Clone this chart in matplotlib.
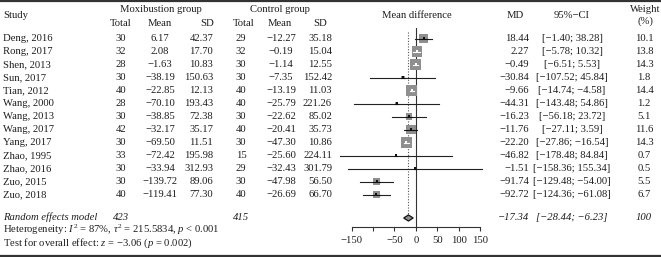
import numpy as np
import matplotlib.pyplot as plt

plt.rcParams['font.family'] = 'Liberation Serif'
plt.rcParams['mathtext.fontset'] = 'custom'
plt.rcParams['mathtext.rm'] = 'Liberation Serif'
plt.rcParams['mathtext.it'] = 'Liberation Serif:italic'

studies = ["Deng, 2016", "Rong, 2017", "Shen, 2013", "Sun, 2017", "Tian, 2012",
           "Wang, 2000", "Wang, 2013", "Wang, 2017", "Yang, 2017", "Zhao, 1995",
           "Zhao, 2016", "Zuo, 2015", "Zuo, 2018"]
n_e = [30, 32, 28, 30, 40, 28, 30, 42, 30, 33, 30, 30, 40]
mean_e = [6.17, 2.08, -1.63, -38.19, -22.85, -70.10, -38.85, -32.17, -69.50, -72.42, -33.94, -139.72, -119.41]
sd_e = [42.37, 17.70, 10.83, 150.63, 12.13, 193.43, 72.38, 35.17, 11.51, 195.98, 312.93, 89.06, 77.30]
n_c = [29, 32, 30, 30, 40, 40, 30, 40, 30, 15, 29, 30, 40]
mean_c = [-12.27, -0.19, -1.14, -7.35, -13.19, -25.79, -22.62, -20.41, -47.30, -25.60, -32.43, -47.98, -26.69]
sd_c = [35.18, 15.04, 12.55, 152.42, 11.03, 221.26, 85.02, 35.73, 10.86, 224.11, 301.79, 56.50, 66.70]
md = [18.44, 2.27, -0.49, -30.84, -9.66, -44.31, -16.23, -11.76, -22.20, -46.82, -1.51, -91.74, -92.72]
lower = [-1.40, -5.78, -6.51, -107.52, -14.74, -143.48, -56.18, -27.11, -27.86, -178.48, -158.36, -129.48, -124.36]
upper = [38.28, 10.32, 5.53, 45.84, -4.58, 54.86, 23.72, 3.59, -16.54, 84.84, 155.34, -54.00, -61.08]
weight = [10.1, 13.8, 14.3, 1.8, 14.4, 1.2, 5.1, 11.6, 14.3, 0.7, 0.5, 5.5, 6.7]

total_e, total_c = 423, 415
pooled_md, pooled_lo, pooled_hi = -17.34, -28.44, -6.23
ticks = [-150, -100, -50, 0, 50, 100, 150]
tick_labels = ["−150", "", "−50", "0", "50", "100", "150"]


def f(v, d=2):
    return f"{v:.{d}f}".replace("-", "−")


W, H = 661, 257
fig = plt.figure(figsize=(W / 100, H / 100), dpi=100)
lay = fig.add_axes([0, 0, 1, 1])
lay.set_xlim(0, W)
lay.set_ylim(H, 0)
lay.axis('off')

tc = '#1e1e1e'
fs = 7.7
y_rows = 38.5 + 13.0 * np.arange(len(studies))
y_sum, y_het, y_test = 217, 230, 243

# top / bottom rules
lay.plot([0, W], [1, 1], color='#333333', lw=1.6)
lay.plot([0, W], [255.5, 255.5], color='#333333', lw=1.6)


def t(x, y, s, ha='center', **kw):
    lay.text(x, y, s, ha=ha, va='center', fontsize=fs, color=tc, **kw)


# headers
t(161, 9, "Moxibustion group")
t(280, 9, "Control group")
t(3, 15, "Study", ha='left')
t(417, 15, "Mean difference")
t(515, 15, "MD")
t(572, 15, "95%−CI")
t(645, 9, "Weight")
t(645, 21, "(%)")
for x, s in [(121, "Total"), (160, "Mean"), (207, "SD"),
             (244, "Total"), (280, "Mean"), (320, "SD")]:
    t(x, 23, s)

for i, y in enumerate(y_rows):
    t(3, y, studies[i], ha='left')
    t(121, y, str(n_e[i]))
    t(160, y, f(mean_e[i]))
    t(213, y, f(sd_e[i]), ha='right')
    t(241, y, str(n_c[i]))
    t(281, y, f(mean_c[i]))
    t(332, y, f(sd_c[i]), ha='right')
    t(529, y, f(md[i]), ha='right')
    t(572, y, f"[{f(lower[i])}; {f(upper[i])}]")
    t(644, y, f(weight[i], 1))

t(3, y_sum, "Random effects model", ha='left', style='italic')
t(121, y_sum, str(total_e), style='italic')
t(241, y_sum, str(total_c), style='italic')
t(529, y_sum, f(pooled_md), ha='right', style='italic')
t(572, y_sum, f"[{f(pooled_lo)}; {f(pooled_hi)}]", style='italic')
t(644, y_sum, "100", style='italic')
t(3, y_het, r"Heterogeneity: $I^2$ = 87%, $\tau^2$ = 215.5834, $p$ < 0.001", ha='left')
t(3, y_test, r"Test for overall effect: $z$ = −3.06 ($p$ = 0.002)", ha='left')

# forest panel
x0, x1 = 351.7, 480.0
ytop, ybot = 28, 227
ax = fig.add_axes([x0 / W, 1 - ybot / H, (x1 - x0) / W, (ybot - ytop) / H])
ax.set_xlim(-150, 150)
ax.set_ylim(ybot, ytop)
ax.patch.set_alpha(0)
for s in ['top', 'right', 'left']:
    ax.spines[s].set_visible(False)
ax.spines['bottom'].set_color('#333333')
ax.spines['bottom'].set_linewidth(0.8)
ax.set_yticks([])
ax.set_xticks(ticks)
ax.set_xticklabels(tick_labels, fontsize=fs, color=tc)
ax.tick_params(axis='x', length=3.2, width=0.8, color='#333333', pad=3)

ax.axvline(0, color='#333333', lw=0.8)
ax.plot([pooled_md, pooled_md], [32, y_sum - 3], color='#555555', lw=0.8, ls=(0, (1, 1.5)))

px_per_unit = (x1 - x0) / 300.0
gray = '#8f8f8f'
for i, y in enumerate(y_rows):
    side_px = 2.85 * np.sqrt(weight[i])
    inside = (upper[i] - lower[i]) * px_per_unit < side_px
    if not inside:
        ax.plot([lower[i], upper[i]], [y, y], color='#222222', lw=0.8, clip_on=False, zorder=2)
    ax.scatter([md[i]], [y], marker='s', s=(side_px * 0.72) ** 2, color=gray,
               edgecolors='none', zorder=3, clip_on=False)
    lc = 'white' if inside else '#111111'
    if inside:
        ax.plot([lower[i], upper[i]], [y, y], color=lc, lw=0.8, zorder=4)
    else:
        ax.plot([md[i] - side_px / 2 / px_per_unit, md[i] + side_px / 2 / px_per_unit], [y, y],
                color=lc, lw=0.8, zorder=4, clip_on=False)
    ax.scatter([md[i]], [y], marker='s', s=2.5, color=lc, edgecolors='none', zorder=5, clip_on=False)

dh = 3.0
ax.fill([pooled_lo, pooled_md, pooled_hi, pooled_md],
        [y_sum + 1, y_sum + 1 - dh, y_sum + 1, y_sum + 1 + dh],
        facecolor=gray, edgecolor='#111111', lw=0.9, zorder=4)

fig.savefig('out.png', dpi=100)
